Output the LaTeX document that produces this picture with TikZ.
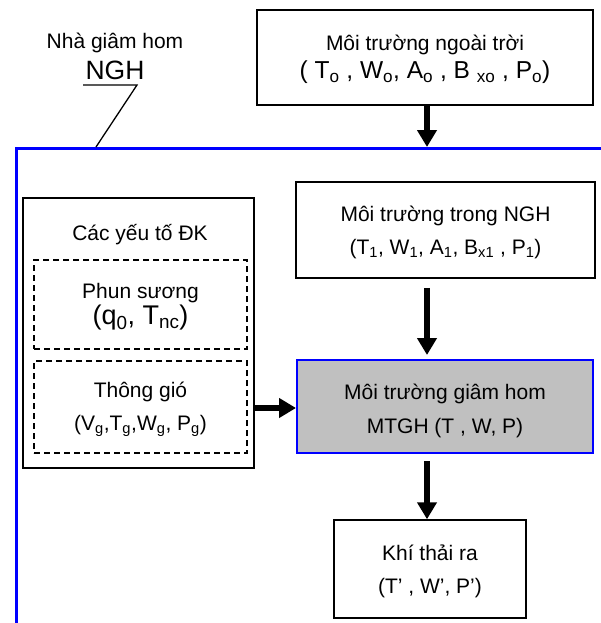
\documentclass[tikz,border=0pt]{standalone}
\usepackage{fontspec}
\setmainfont{Liberation Sans}
\usetikzlibrary{arrows.meta}
\definecolor{frameblue}{RGB}{0,0,255}
\definecolor{boxgray}{RGB}{192,192,192}
\begin{document}
\begin{tikzpicture}[x=1pt,y=-1pt,
  every node/.style={font=\fontsize{21}{25}\selectfont},
  box/.style={draw=black,line width=1.5pt,fill=white,align=center,inner sep=0pt},
  dbox/.style={draw=black,line width=1.5pt,dash pattern=on 6pt off 4pt,align=center,inner sep=0pt},
  arr/.style={line width=6pt,-{Triangle[length=17pt,width=19pt]}},
]
\useasboundingbox (0,0) rectangle (600,623);
% frame
\draw[frameblue,line width=3pt] (603,148.5) -- (16.5,148.5) -- (16.5,626);
\coordinate (fr) at (427,147);
% label NGH
\node (nha) at (115,43) {Nhà giâm hom};
\node (ngh) at (115,70) {\fontsize{26.5}{30}\selectfont NGH};
\coordinate (l1) at (83,85);
\coordinate (l2) at (137,85);
\coordinate (l3) at (96,147);
\draw[line width=1.3pt] (l1) -- (l2) -- (l3);
% outer environment
\node[box,minimum width=336pt,minimum height=95pt] (out) at (425,57.5)
  {\rule{0pt}{19pt}Môi trường ngoài trời\\[3pt]{\fontsize{24.5}{28}\selectfont ( T\textsubscript{o} , W\textsubscript{o}, A\textsubscript{o} , B \textsubscript{xo} , P\textsubscript{o})}};
% inside NGH
\node[box,minimum width=299pt,minimum height=96pt] (in) at (445.5,230)
  {\rule{0pt}{20pt}Môi trường trong NGH\\[8pt](T\textsubscript{1}, W\textsubscript{1}, A\textsubscript{1}, B\textsubscript{x1} , P\textsubscript{1})};
% MTGH
\node[box,draw=frameblue,line width=2pt,fill=boxgray,minimum width=296pt,minimum height=93pt] (mt) at (445,406.5)
  {\rule{0pt}{24pt}Môi trường giâm hom\\[9pt]MTGH (T , W, P)};
% exhaust
\node[box,minimum width=192pt,minimum height=98pt] (kt) at (430,569)
  {\rule{0pt}{21pt}Khí thải ra\\[8pt](T’ , W’, P’)};
% control factors
\node[box,line width=2pt,minimum width=231pt,minimum height=270pt] (dk) at (138.5,333) {};
\node (dkt) at (140,235) {Các yếu tố ĐK};
\node[dbox,minimum width=213pt,minimum height=89pt] (ps) at (140.5,304.5)
  {\rule{0pt}{20pt}Phun sương\\[1pt]{\fontsize{27}{30}\selectfont (q\textsubscript{0}, T\textsubscript{nc})}};
\node[dbox,minimum width=213pt,minimum height=92pt] (tg) at (140.5,407)
  {\rule{0pt}{20pt}Thông gió\\[8pt](V\textsubscript{g},T\textsubscript{g},W\textsubscript{g}, P\textsubscript{g})};
% arrows
\draw[arr] (out.south -| fr) -- (fr);
\draw[arr] ([yshift=-9pt]in.south -| fr) -- ([yshift=4pt]mt.north -| fr);
\draw[arr] ([yshift=-7pt]mt.south -| fr) -- (kt.north -| fr);
\draw[arr] (dk.east |- 0,408) -- (mt.west |- 0,408);
\end{tikzpicture}
\end{document}
